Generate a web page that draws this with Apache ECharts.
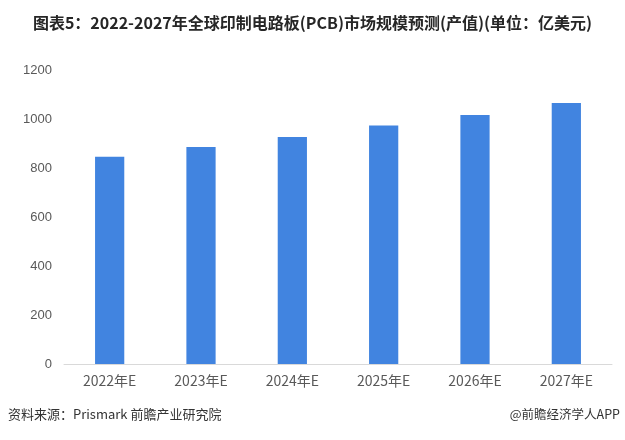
<!DOCTYPE html>
<html><head><meta charset="utf-8">
<script src="https://cdn.jsdelivr.net/npm/echarts@6/dist/echarts.min.js"></script>
<style>html,body{margin:0;padding:0;background:#fff}#c{width:625px;height:440px}</style>
</head><body><div id="c"></div>
<script>
const categories = ['2022年E','2023年E','2024年E','2025年E','2026年E','2027年E'];
const values = [846, 886, 927, 973, 1016, 1065];
const yTicks = [0, 200, 400, 600, 800, 1000, 1200];

const chart = echarts.init(document.getElementById('c'));
chart.setOption({
  animation: false,
  backgroundColor: '#fff',
  title: {
    text: '图表5：2022-2027年全球印制电路板(PCB)市场规模预测(产值)(单位：亿美元)',
    left: 'center', top: 10,
    textStyle: {fontFamily: 'Noto Sans CJK SC', fontSize: 16, fontWeight: 'bold', color: '#262626'}
  },
  graphic: [
    {type: 'text', left: 8, top: 408, style: {text: '资料来源：Prismark 前瞻产业研究院', font: '13px "Noto Sans CJK SC"', fill: '#333'}},
    {type: 'text', right: 5, top: 408, style: {text: '@前瞻经济学人APP', font: '12.5px "Noto Sans CJK SC"', fill: '#333'}}
  ],
  grid: {left: 64, right: 13, top: 70, bottom: 76, containLabel: false},
  xAxis: {
    type: 'category', data: categories,
    axisLine: {lineStyle: {color: '#d9d9d9'}},
    axisTick: {show: false},
    axisLabel: {color: '#595959', fontSize: 14, fontFamily: 'Noto Sans CJK SC', margin: 10}
  },
  yAxis: {
    type: 'value', min: yTicks[0], max: yTicks[yTicks.length-1], interval: 200,
    axisLine: {show: false}, axisTick: {show: false},
    splitLine: {show: false},
    axisLabel: {color: '#595959', fontSize: 13, fontFamily: 'Liberation Sans', margin: 12,
      formatter: v => String(v)}
  },
  series: [{
    type: 'bar', data: values, barWidth: '32%',
    itemStyle: {color: '#4184e0'}
  }]
});
</script></body></html>
